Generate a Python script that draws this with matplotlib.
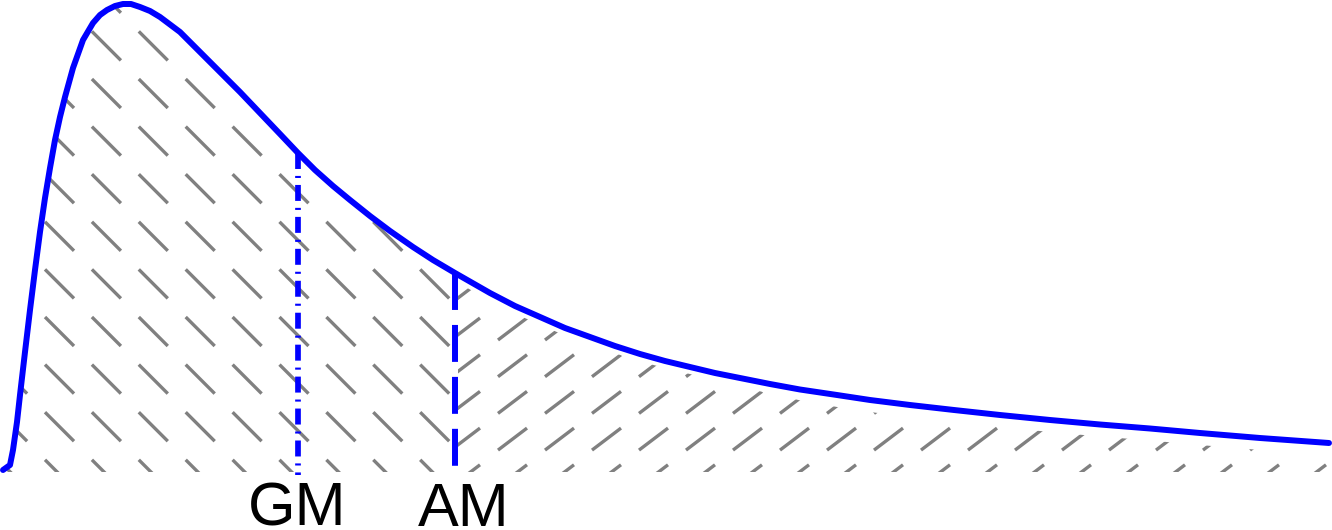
import numpy as np
import matplotlib
matplotlib.use("Agg")
import matplotlib.pyplot as plt
from matplotlib.collections import LineCollection
from matplotlib.patches import Polygon

plt.rcParams['lines.scale_dashes'] = False

# ---- data (x in px, y = height above baseline in px) ----
curve_x = [3, 10, 13, 17, 20, 25, 30, 35, 40, 45, 50, 55, 60, 65, 73, 83, 93, 100, 107,
           115, 123, 131, 140, 150, 160, 180, 200, 220, 240, 260, 280, 298, 315, 333,
           350, 370, 390, 413, 433, 455, 490, 515, 540, 565, 590, 615, 640, 665, 690,
           715, 740, 770, 800, 837, 870, 910, 954, 1000, 1050, 1100, 1150, 1200, 1260,
           1329]
curve_y = [0, 5, 20, 48, 75, 118, 160, 200, 238, 272, 302, 330, 353, 373, 402, 430, 447,
           455, 460, 464, 466, 466, 463, 459, 453, 438, 418, 398, 378, 357, 336, 317,
           300, 284, 270, 254, 239, 223, 210, 197, 177, 164, 153, 142, 133, 124, 116,
           109, 103, 97, 92, 86, 80.5, 75, 70, 65, 60, 55, 50, 45.5, 41.5, 37, 32, 27]

gm_x, gm_top = 298, 317
am_x, am_top = 455, 197
labels = ["GM", "AM"]
label_x = [297, 464]

BASE = 470  # baseline pixel row

fig = plt.figure(figsize=(13.32, 5.30), dpi=100)
ax = fig.add_axes([0, 0, 1, 1])
ax.set_xlim(0, 1332)
ax.set_ylim(BASE - 530, BASE)
ax.axis('off')

cx = np.array(curve_x, float)
cy = np.array(curve_y, float)

# clip regions for the two hatchings
split = 458
h_split = np.interp(split, cx, cy)
left_mask = cx <= split
left_poly = np.vstack([
    np.column_stack([cx[left_mask], cy[left_mask] - 2]),
    [[split, h_split - 2], [split, -2], [0, -2]]
])
right_mask = cx > split
rx = cx[right_mask]
r_off = np.interp(rx, [458, 700, 830, 1400], [8, 7, 12, 12])
right_poly = np.vstack([
    [[split, -2], [split, h_split - 8]],
    np.column_stack([rx, cy[right_mask] - r_off]),
    [[1332, cy[-1] - 12], [1332, -2]]
])
lp = Polygon(left_poly, closed=True, facecolor='none', edgecolor='none')
rp = Polygon(right_poly, closed=True, facecolor='none', edgecolor='none')
ax.add_patch(lp)
ax.add_patch(rp)

hatch_color = '#808080'
hatch_lw = 2.4

# left "\" dashes
segs = []
for xs in np.arange(45 - 46.9 * 2, split + 10, 46.9):
    for ys in np.arange(79 - 47.6 * 3, BASE + 50, 47.6):
        segs.append([(xs, BASE - ys), (xs + 29, BASE - ys - 29)])
lc = LineCollection(segs, colors=hatch_color, linewidths=hatch_lw, capstyle='butt')
ax.add_collection(lc)
lc.set_clip_path(lp)

# right "/" dashes
segs = []
for xs in np.arange(498 - 47 * 2, 1340, 47):
    for yb in np.arange(340 - 36.7 * 3, BASE + 40, 36.7):
        segs.append([(xs, BASE - yb), (xs + 29, BASE - yb + 22)])
rc = LineCollection(segs, colors=hatch_color, linewidths=hatch_lw, capstyle='butt')
ax.add_collection(rc)
rc.set_clip_path(rp)

# GM and AM lines
ax.plot([gm_x, gm_x], [gm_top, -5], color='#0000ff', lw=4.1,
        dashes=(11.5, 5.0, 1.5, 5.0), solid_capstyle='butt', dash_capstyle='butt')
ax.plot([am_x, am_x], [am_top, 0], color='#0000ff', lw=4.3,
        dashes=(26.6, 10.8), solid_capstyle='butt', dash_capstyle='butt')

# curve
ax.plot(cx, cy, color='#0000ff', lw=4.3, solid_capstyle='round', solid_joinstyle='round')

for lab, lx in zip(labels, label_x):
    ax.text(lx, BASE - 526, lab, ha='center', va='baseline', fontsize=44,
            family='Liberation Sans', color='black')

fig.savefig('out.png', dpi=100)
